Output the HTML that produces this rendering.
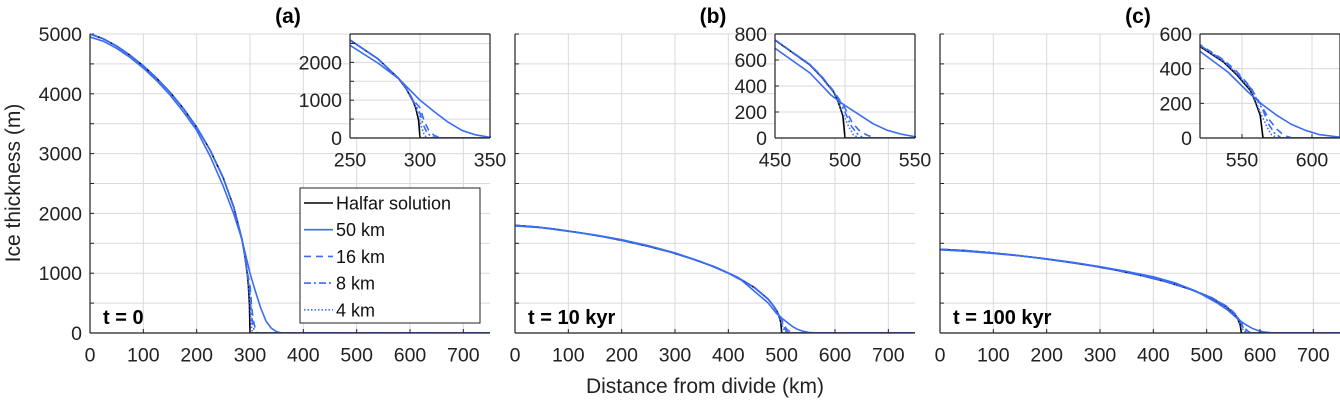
<!DOCTYPE html>
<html><head><meta charset="utf-8">
<style>
html,body{margin:0;padding:0;background:#fff;}
svg{display:block;font-family:"Liberation Sans",sans-serif;}
</style></head>
<body>
<svg id="fig" width="1340" height="403" viewBox="0 0 1340 403" xmlns="http://www.w3.org/2000/svg"></svg>
<script>
// ---------- data ----------
const xTicks = [0,100,200,300,400,500,600,700];
const yTicks = [0,1000,2000,3000,4000,5000];
const panelTitles = ["(a)","(b)","(c)"];
const timeLabels = ["t = 0","t = 10 kyr","t = 100 kyr"];
const seriesNames = ["Halfar solution","50 km","16 km","8 km","4 km"];

// panel a
const aHalfarX = [0,25,50,75,100,125,150,175,200,225,250,270,285,290,295,297,299,300,300,750];
const aHalfarY = [5000,4920,4798,4645,4467,4260,4025,3755,3440,3062,2590,2092,1560,1310,978,785,470,0,0,0];
const a50X = [0,25,50,75,100,125,150,175,200,225,250,270,285,300,310,320,330,340,350,360,750];
const a50Y = [4950,4880,4760,4610,4430,4220,3980,3700,3390,2960,2450,1980,1560,1000,700,420,200,80,20,0,0];
const a16X = [0,25,50,75,100,125,150,175,200,225,250,270,285,290,295,300,303,306,310,315,750];
const a16Y = [5000,4920,4798,4645,4467,4260,4025,3755,3440,3062,2590,2092,1570,1330,1010,800,450,220,70,0,0];
const a8X = [0,25,50,75,100,125,150,175,200,225,250,270,285,290,295,300,302,305,308,312,750];
const a8Y = [5000,4920,4798,4645,4467,4260,4025,3755,3440,3062,2590,2092,1565,1320,995,650,380,140,40,0,0];
const a4X = [0,25,50,75,100,125,150,175,200,225,250,270,285,290,295,299,301,303,305,750];
const a4Y = [5000,4920,4798,4645,4467,4260,4025,3755,3440,3062,2590,2092,1560,1315,985,600,300,90,0,0];
// panel b
const bHalfarX = [0,42,83,125,167,208,250,292,333,375,417,450,475,483,492,495,498.5,500,500,750];
const bHalfarY = [1800,1771,1727,1672,1608,1534,1449,1352,1238,1103,932,753,562,472,352,283,169,0,0,0];
const b50X = [0,50,100,150,200,250,300,350,400,425,450,475,490,500,510,520,530,540,550,570,750];
const b50Y = [1790,1760,1700,1640,1560,1460,1340,1190,1000,880,690,500,330,250,180,110,60,30,10,0,0];
const b16X = [0,42,83,125,167,208,250,292,333,375,417,450,475,483,492,500,505,510,516,522,750];
const b16Y = [1800,1771,1727,1672,1608,1534,1449,1352,1238,1103,932,755,565,478,360,230,120,60,20,0,0];
const b8X = [0,42,83,125,167,208,250,292,333,375,417,450,475,483,492,500,504,508,513,750];
const b8Y = [1800,1771,1727,1672,1608,1534,1449,1352,1238,1103,932,755,565,475,355,200,100,40,0,0];
const b4X = [0,42,83,125,167,208,250,292,333,375,417,450,475,483,492,498,503,506,510,750];
const b4Y = [1800,1771,1727,1672,1608,1534,1449,1352,1238,1103,932,753,562,472,352,200,80,25,0,0];
// panel c
const cHalfarX = [0,47,94,141,188,235,283,330,377,424,471,509,537,546,556,559,563,565,565,750];
const cHalfarY = [1400,1378,1343,1301,1251,1193,1127,1051,963,858,725,586,437,367,274,220,132,0,0,0];
const c50X = [0,50,100,150,200,250,300,350,400,440,480,520,540,555,565,575,585,595,605,620,640,750];
const c50Y = [1390,1365,1330,1290,1240,1180,1110,1030,940,840,700,500,380,260,190,130,80,45,20,5,0,0];
const c16X = [0,47,94,141,188,235,283,330,377,424,471,509,537,546,556,565,570,575,580,586,750];
const c16Y = [1400,1378,1343,1301,1251,1193,1127,1051,963,858,728,595,450,385,295,170,100,50,15,0,0];
const c8X = [0,47,94,141,188,235,283,330,377,424,471,509,537,546,556,565,569,573,578,750];
const c8Y = [1400,1378,1343,1301,1251,1193,1127,1051,963,858,728,592,445,378,288,160,80,30,0,0];
const c4X = [0,47,94,141,188,235,283,330,377,424,471,509,537,546,556,563,568,571,575,750];
const c4Y = [1400,1378,1343,1301,1251,1193,1127,1051,963,858,725,590,440,372,280,150,60,20,0,0];

const insetXTicks = [[250,300,350],[450,500,550],[550,600]];
const insetYTicks = [[0,1000,2000],[0,200,400,600,800],[0,200,400,600]];
const insetXRange = [[250,350],[450,550],[520,620]];
const insetYRange = [[0,2750],[0,800],[0,600]];

// ---------- drawing ----------
const NS="http://www.w3.org/2000/svg";
const svg=document.getElementById('fig');
function mk(tag,attrs,parent){const e=document.createElementNS(NS,tag);for(const k in attrs)e.setAttribute(k,attrs[k]);(parent||svg).appendChild(e);return e;}
const BLUE="#3a6cf4";
const styles=[{stroke:"#000",dash:""},{stroke:BLUE,dash:""},{stroke:BLUE,dash:"7,5"},{stroke:BLUE,dash:"7,3,2,3"},{stroke:BLUE,dash:"1.5,2"}];
const panelData=[
 [[aHalfarX,aHalfarY],[a50X,a50Y],[a16X,a16Y],[a8X,a8Y],[a4X,a4Y]],
 [[bHalfarX,bHalfarY],[b50X,b50Y],[b16X,b16Y],[b8X,b8Y],[b4X,b4Y]],
 [[cHalfarX,cHalfarY],[c50X,c50Y],[c16X,c16Y],[c8X,c8Y],[c4X,c4Y]]];
const panelLeft=[90,515,940];
const mainW=400, axTop=34, axBottom=333;
let clipN=0;

function drawAxes(g,x0,y0,w,h,xr,yr,xt,yt,yGridStep,showYLabels,fs,drawBox,series,name){
  const sx=v=>x0+(v-xr[0])/(xr[1]-xr[0])*w;
  const sy=v=>y0+h-(v-yr[0])/(yr[1]-yr[0])*h;
  mk('rect',{x:x0,y:y0,width:w,height:h,fill:'#fff'},g);
  xt.forEach(v=>{const l=mk('line',{x1:sx(v),x2:sx(v),y1:y0,y2:y0+h,stroke:'#dadada','stroke-width':1},g);
    
    });
  for(let v=yr[0];v<=yr[1]+1e-6;v+=yGridStep){const l=mk('line',{x1:x0,x2:x0+w,y1:sy(v),y2:sy(v),stroke:'#dadada','stroke-width':1},g);
    
    
    mk('line',{x1:x0,x2:x0+4,y1:sy(v),y2:sy(v),stroke:'#222','stroke-width':1},g);}
  clipN++;
  const cp=mk('clipPath',{id:'cp'+clipN},g);mk('rect',{x:x0,y:y0-1,width:w+1,height:h+1},cp);
  const sg=mk('g',{'clip-path':'url(#cp'+clipN+')'},g);
  series.forEach((s,i)=>{
    const d=s[0].map((xv,j)=>(j?'L':'M')+sx(xv).toFixed(2)+','+sy(s[1][j]).toFixed(2)).join('');
    const p=mk('path',{d:d,fill:'none',stroke:styles[i].stroke,'stroke-width':1.6,'stroke-dasharray':styles[i].dash,'stroke-linejoin':'round'},sg);
    
    
  });
  mk('line',{x1:x0,x2:x0,y1:y0,y2:y0+h,stroke:'#222','stroke-width':1.2},g);
  mk('line',{x1:x0,x2:x0+w,y1:y0+h,y2:y0+h,stroke:'#222','stroke-width':1.2},g);
  if(drawBox){mk('line',{x1:x0,x2:x0+w,y1:y0,y2:y0,stroke:'#222','stroke-width':1.2},g);
    mk('line',{x1:x0+w,x2:x0+w,y1:y0,y2:y0+h,stroke:'#222','stroke-width':1.2},g);}
  xt.forEach(v=>{
    mk('line',{x1:sx(v),x2:sx(v),y1:y0+h,y2:y0+h-4,stroke:'#222','stroke-width':1},g);
    const t=mk('text',{x:sx(v),y:y0+h+fs+9,'text-anchor':'middle','font-size':fs,fill:'#222'},g);t.textContent=v;
    
    
  });
  if(showYLabels) yt.forEach(v=>{
    const t=mk('text',{x:x0-8,y:sy(v)+fs*0.36,'text-anchor':'end','font-size':fs,fill:'#222'},g);t.textContent=v;
    
    
  });
}

for(let p=0;p<3;p++){
  const g=mk('g',{});
  
  
  drawAxes(g,panelLeft[p],axTop,mainW,axBottom-axTop,[0,750],[0,5000],xTicks,yTicks,500,p===0,19.5,false,panelData[p],'main-'+'abc'[p]);
  const tt=mk('text',{x:panelLeft[p]+198,y:23,'text-anchor':'middle','font-size':21,'font-weight':'bold',fill:'#000'},g);tt.textContent=panelTitles[p];
  
  
  const tl=mk('text',{x:panelLeft[p]+13,y:324,'font-size':20,'font-weight':'bold',fill:'#000'},g);tl.textContent=timeLabels[p];
  
  
  const ig=mk('g',{},g);
  
  
  const yr=insetYRange[p];
  drawAxes(ig,panelLeft[p]+260,axTop,140,104,insetXRange[p],yr,insetXTicks[p],insetYTicks[p],(yr[1]>1000?500:200),true,19.5,true,panelData[p],'inset-'+'abc'[p]);
}

const lg=mk('g',{});


mk('rect',{x:300,y:188,width:180,height:135,fill:'#fff',stroke:'#222','stroke-width':1},lg);
seriesNames.forEach((n,i)=>{
  const y=203+i*26.7;
  const l=mk('line',{x1:304,x2:333,y1:y,y2:y,stroke:styles[i].stroke,'stroke-width':1.6,'stroke-dasharray':styles[i].dash},lg);
  
  
  const t=mk('text',{x:336,y:y+6.5,'font-size':18,fill:'#111'},lg);t.textContent=n;
  
  
});

const xl=mk('text',{x:705,y:393,'text-anchor':'middle','font-size':21,fill:'#222'});xl.textContent='Distance from divide (km)';


const yl=mk('text',{x:0,y:0,'text-anchor':'middle','font-size':21,fill:'#222',transform:'translate(20,183) rotate(-90)'});yl.textContent='Ice thickness (m)';


</script>
</body></html>
